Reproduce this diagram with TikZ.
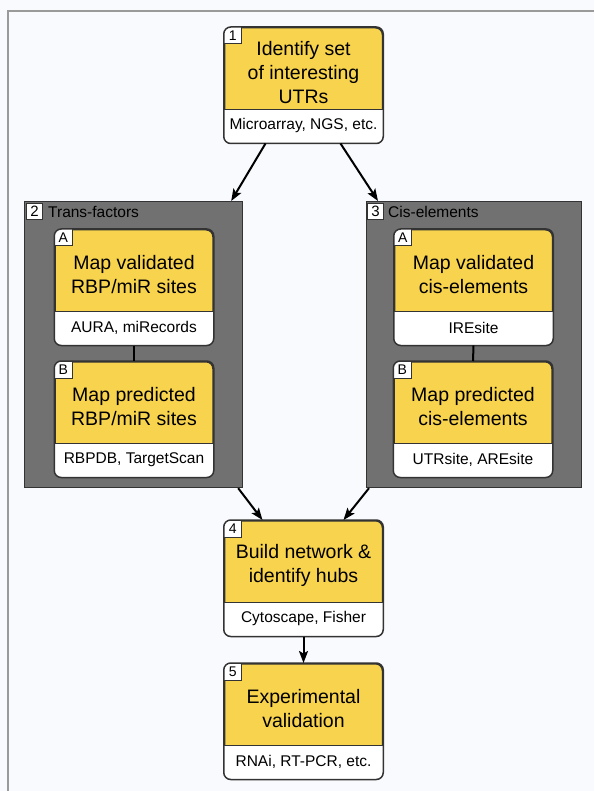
\documentclass[tikz,border=0pt]{standalone}
\usepackage{fontspec}
\setmainfont{Liberation Sans}
\usetikzlibrary{arrows.meta,calc}
\definecolor{bg}{HTML}{F9FAFD}
\definecolor{boxyellow}{HTML}{F7D34E}
\definecolor{panelgray}{HTML}{717171}
\definecolor{edge}{HTML}{333333}
\definecolor{framegray}{HTML}{9A9A9A}
\tikzset{
 boxshape/.style={draw=edge, line width=1.5pt, fill=boxyellow, rounded corners=7pt, inner sep=0pt},
 numbox/.style={draw=edge, line width=1pt, fill=white},
 numtext/.style={font=\fontsize{14}{14}\selectfont, inner sep=0pt},
 maintext/.style={font=\fontsize{19.5}{24}\selectfont, align=center, inner sep=0pt},
 subtext/.style={font=\fontsize{15.5}{18}\selectfont, inner sep=0pt},
 panel/.style={draw=edge, line width=1.2pt, fill=panelgray, inner sep=0pt},
 paneltext/.style={font=\fontsize{15.5}{18}\selectfont, inner sep=0pt, text=black},
 flow/.style={line width=2pt, draw=black, -{Stealth[length=12pt,width=9pt,inset=2.5pt]}},
 link/.style={line width=2pt, draw=black}
}
\newcommand\flowbox[6]{%
 \node[boxshape, minimum width=158pt, minimum height=115pt, anchor=north] (#1) at (#2,#3) {};
 \begin{scope}
 \clip[rounded corners=7pt] (#1.south west) rectangle (#1.north east);
 \fill[white] (#1.south west) rectangle ([yshift=34pt]#1.south east);
 \draw[numbox] (#1.north west) rectangle ([xshift=18pt,yshift=-17pt]#1.north west);
 \end{scope}
 \draw[edge, line width=1.2pt] ([yshift=34pt]#1.south west) -- ([yshift=34pt]#1.south east);
 \draw[boxshape, fill=none] (#1.south west) rectangle (#1.north east);
 \node[numtext] (#1-num) at ([xshift=9pt,yshift=-8.5pt]#1.north west) {#4};
 \node[maintext] (#1-main) at ([yshift=13pt]#1.center) {#5};
 \node[subtext] (#1-sub) at ([yshift=-40.5pt]#1.center) {#6};
}
\begin{document}
\begin{tikzpicture}[x=1pt,y=-1pt]
\fill[bg] (0,0) rectangle (594,791);
\useasboundingbox (0,0) rectangle (594,791);
\draw[framegray, line width=1.5pt] (8,791) -- (8,11) -- (594,11);

% panels
\node[panel, minimum width=218pt, minimum height=286pt, anchor=north west] (p2) at (24,201) {};
\node[numbox, numtext, minimum width=16pt, minimum height=16pt, anchor=north west, font=\fontsize{15}{15}\selectfont] (p2-num) at ([xshift=2pt,yshift=-2pt]p2.north west) {2};
\node[paneltext, anchor=west] (p2-label) at ([xshift=5pt]p2-num.east) {Trans-factors};

\node[panel, minimum width=215pt, minimum height=286pt, anchor=north west] (p3) at (366,201) {};
\node[numbox, numtext, minimum width=16pt, minimum height=16pt, anchor=north west, font=\fontsize{15}{15}\selectfont] (p3-num) at ([xshift=1pt,yshift=-2pt]p3.north west) {3};
\node[paneltext, anchor=west] (p3-label) at ([xshift=4pt]p3-num.east) {Cis-elements};

% boxes
\flowbox{b1}{303.5}{27}{1}{Identify set\\of interesting\\UTRs}{Microarray, NGS, etc.}
\flowbox{p2a}{134}{229}{A}{Map validated\\RBP/miR sites}{AURA, miRecords}
\flowbox{p2b}{134}{361}{B}{Map predicted\\RBP/miR sites}{RBPDB, TargetScan}
\flowbox{p3a}{473.5}{229}{A}{Map validated\\cis-elements}{IREsite}
\flowbox{p3b}{473}{361}{B}{Map predicted\\cis-elements}{UTRsite, AREsite}
\flowbox{b4}{303.5}{520}{4}{Build network \&\\identify hubs}{Cytoscape, Fisher}
\flowbox{b5}{303.5}{663}{5}{Experimental\\validation}{RNAi, RT-PCR, etc.}

% connectors
\draw[link] (p2a.south) -- (p2b.north);
\draw[link] (p3a.south) -- (p3b.north);
\draw[flow] ([xshift=-38pt]b1.south) -- ([xshift=-12pt]p2.north east);
\draw[flow] ([xshift=37pt]b1.south) -- ([xshift=12pt]p3.north west);
\draw[flow] ([xshift=-5pt]p2.south east) -- ([xshift=-41pt]b4.north);
\draw[flow] ([xshift=3pt]p3.south west) -- ([xshift=40pt]b4.north);
\draw[flow] (b4.south) -- (b5.north);
\end{tikzpicture}
\end{document}
